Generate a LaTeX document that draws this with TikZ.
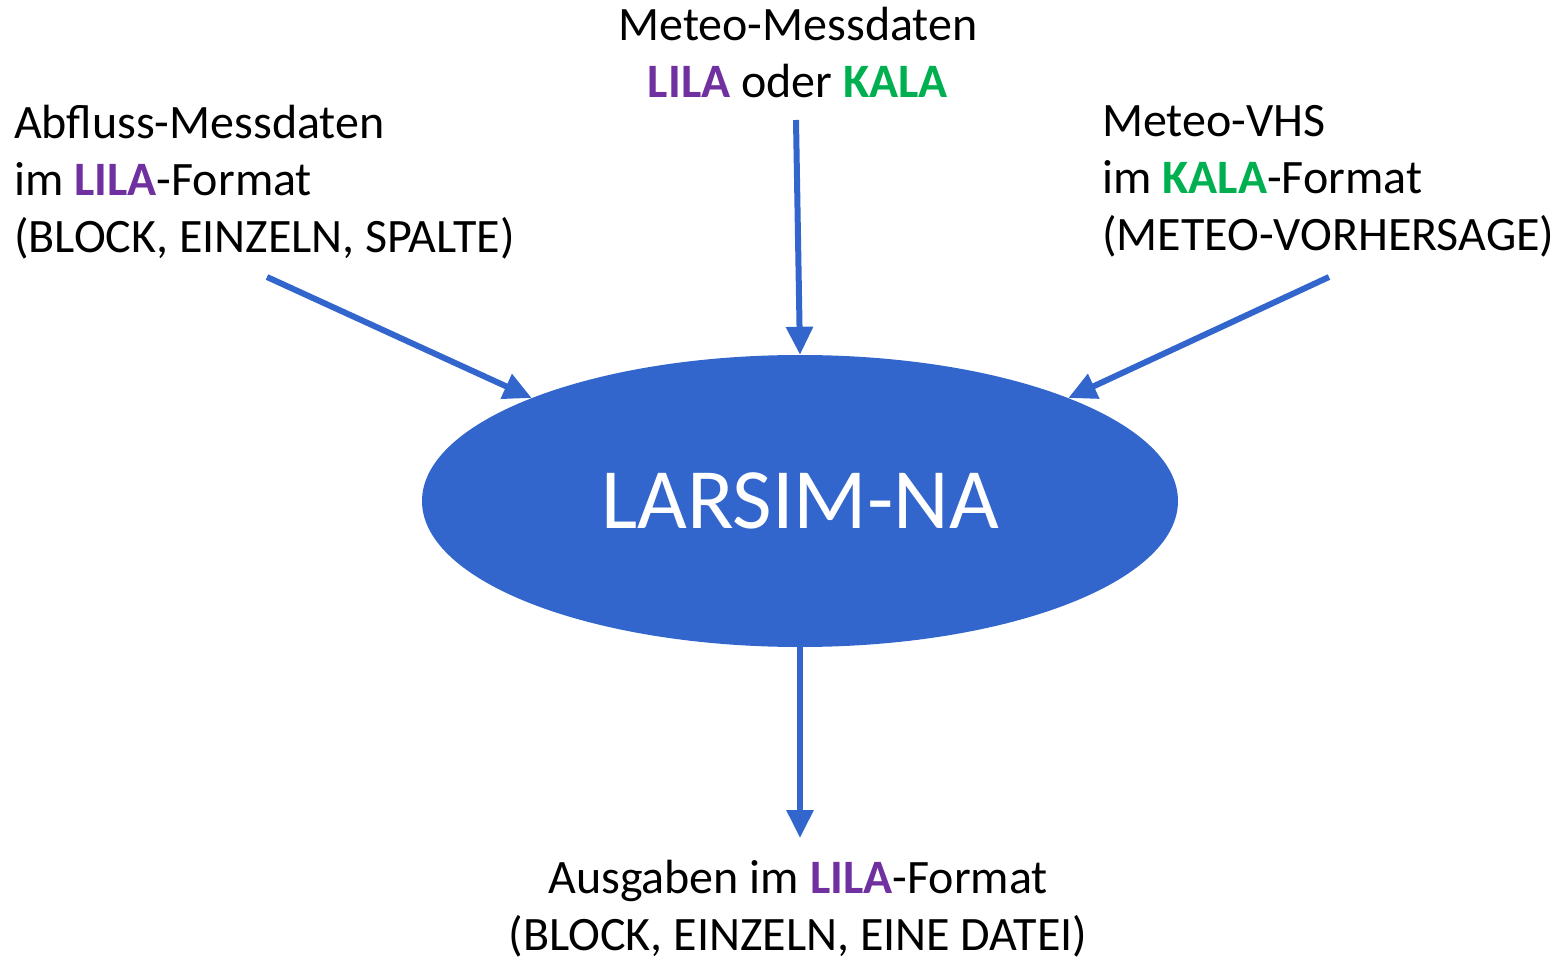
\documentclass[tikz,border=0pt]{standalone}
\usepackage{fontspec}
\setmainfont{Carlito}
\usetikzlibrary{shapes.geometric,arrows.meta}
\definecolor{lila}{HTML}{7030A0}
\definecolor{kala}{HTML}{00B050}
\definecolor{ellblue}{HTML}{3366CC}
\newcommand{\lila}{\textbf{\textcolor{lila}{LILA}}}
\newcommand{\kala}{\textbf{\textcolor{kala}{KALA}}}
\begin{document}
\begin{tikzpicture}[x=1pt,y=-1pt,
  lbl/.style={inner sep=0pt, font=\fontsize{48}{57}\selectfont},
  flow/.style={draw=ellblue, line width=6pt, -{Triangle[width=26pt,length=28pt]}}]
\useasboundingbox (0,0) rectangle (1563,960);
\node[shape=ellipse, fill=ellblue, minimum width=756pt, minimum height=292pt, inner sep=0pt,
  text=white, font=\fontsize{86}{100}\selectfont] (ell) at (800,501) {LARSIM-NA};
\node[lbl, anchor=north west, align=left] (abfluss) at (14,105)
  {Abfluss-Messdaten\\im \lila-Format\\(BLOCK, EINZELN, SPALTE)};
\node[lbl, anchor=north, align=center] (meteo) at (798,7)
  {Meteo-Messdaten\\\lila{} oder \kala};
\node[lbl, anchor=north west, align=left] (vhs) at (1102,105)
  {Meteo-VHS\\im \kala-Format\\(METEO-VORHERSAGE)};
\node[lbl, anchor=north, align=center] (ausg) at (798,860)
  {Ausgaben im \lila-Format\\(BLOCK, EINZELN, EINE DATEI)};
\coordinate (s1) at (267,277);
\coordinate (s2) at (796,120);
\coordinate (s3) at (1329,277);
\coordinate (e4) at (800,838);
\draw[flow] (s1) -- (ell.159);
\draw[flow] (s2) -- (ell.north);
\draw[flow] (s3) -- (ell.21);
\draw[flow] (ell.south) -- (e4);
\end{tikzpicture}
\end{document}
